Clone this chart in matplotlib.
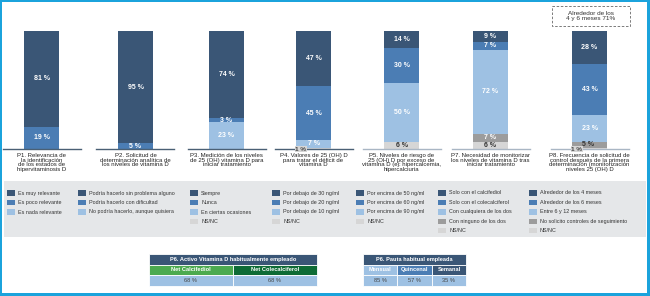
import matplotlib
matplotlib.use("Agg")
import matplotlib.pyplot as plt
from matplotlib.patches import Rectangle

plt.rcParams['font.family'] = ['Liberation Sans', 'DejaVu Sans']

# ---------------- data ----------------
questions = ["P1", "P2", "P3", "P4", "P5", "P7", "P8"]
titles = [
    "P1. Relevancia de\nla identificación\nde los estados de\nhipervitaminosis D",
    "P2. Solicitud de\ndeterminación analítica de\nlos niveles de vitamina D",
    "P3. Medición de los niveles\nde 25 (OH) vitamina D para\niniciar tratamiento",
    "P4. Valores de 25 (OH) D\npara tratar el déficit de\nvitamina D",
    "P5. Niveles de riesgo de\n25 (OH) D por exceso de\nvitamina D (ej: hipercalcemia,\nhipercalciuria",
    "P7. Necesidad de monitorizar\nlos niveles de vitamina D tras\niniciar tratamiento",
    "P8. Frecuencia de solicitud de\ncontrol después de la primera\ndeterminación (monitorización\nniveles 25 (OH) D",
]
seg_dark = [81, 95, 74, 47, 14, 9, 28]
seg_mid = [19, 5, 3, 45, 30, 7, 43]
seg_light = [0, 0, 23, 7, 50, 72, 23]
seg_gray = [0, 0, 0, 0, 0, 7, 5]
seg_nsnc = [0, 0, 0, 1, 6, 6, 1]

legend_entries = [
    ["Es muy relevante", "Es poco relevante", "Es nada relevante"],
    ["Podría hacerlo sin problema alguno", "Podría hacerlo con dificultad",
     "No podría hacerlo, aunque quisiera"],
    ["Siempre", "Nunca", "En ciertas ocasiones", "NS/NC"],
    ["Por debajo de 30 ng/ml", "Por debajo de 20 ng/ml", "Por debajo de 10 ng/ml", "NS/NC"],
    ["Por encima de 50 ng/ml", "Por encima de 60 ng/ml", "Por encima de 90 ng/ml", "NS/NC"],
    ["Solo con el calcifediol", "Solo con el colecalciferol", "Con cualquiera de los dos",
     "Con ninguno de los dos", "NS/NC"],
    ["Alrededor de los 4 meses", "Alrededor de los 6 meses", "Entre 6 y 12 meses",
     "No solicito controles de seguimiento", "NS/NC"],
]
legend_kinds = [
    ["dark", "mid", "light"],
    ["dark", "mid", "light"],
    ["dark", "mid", "light", "nsnc"],
    ["dark", "mid", "light", "nsnc"],
    ["dark", "mid", "light", "nsnc"],
    ["dark", "mid", "light", "gray", "nsnc"],
    ["dark", "mid", "light", "gray", "nsnc"],
]

annotation_text = "Alrededor de los\n4 y 6 meses 71%"

t1_title = "P6. Activo Vitamina D habitualmente empleado"
t1_cols = ["Net Calcifediol", "Net Colecalciferol"]
t1_vals = ["68 %", "68 %"]

t2_title = "P6. Pauta habitual empleada"
t2_cols = ["Mensual", "Quincenal", "Semanal"]
t2_vals = ["85 %", "57 %", "35 %"]

# ---------------- style ----------------
C = {"dark": "#3a5676", "mid": "#4b7db4", "light": "#9ec1e3",
     "gray": "#9c9c9c", "nsnc": "#d6d6d6"}
W, H = 650, 296
fig = plt.figure(figsize=(W / 100, H / 100), dpi=100)
fig.patch.set_facecolor("#1ba3dc")

canvas = fig.add_axes([0, 0, 1, 1])
canvas.set_xlim(0, W)
canvas.set_ylim(H, 0)
canvas.axis("off")
canvas.add_patch(Rectangle((2, 2), W - 5, H - 5, facecolor="white", edgecolor="none"))
# legend background
canvas.add_patch(Rectangle((4, 181), 642, 56, facecolor="#e5e7e9", edgecolor="none"))

centers = [41.5, 135.5, 226.5, 313.5, 401.5, 490.5, 589.5]
line_cols = ["#4a6075", "#4a6075", "#4a6075", "#4a6075", "#a9b6c4", "#a9b6c4", "#a9b6c4"]
pw = 78
top_px, base_px = 31, 149

for i, q in enumerate(questions):
    c = centers[i]
    ax = fig.add_axes([(c - pw / 2) / W, (H - base_px) / H, pw / W, (base_px - top_px) / H])
    ax.set_facecolor("none")
    segs = [("nsnc", seg_nsnc[i]), ("gray", seg_gray[i]), ("light", seg_light[i]),
            ("mid", seg_mid[i]), ("dark", seg_dark[i])]
    total = sum(v for _, v in segs)
    ax.set_xlim(-0.5, 0.5)
    ax.set_ylim(0, max(100, total))
    bw = 35 / pw
    bottom = 0
    for kind, v in segs:
        if v > 0:
            ax.bar(0, v, bottom=bottom, width=bw, color=C[kind], linewidth=0)
            mid_y = bottom + v / 2
            txtcol = "#333333" if kind == "nsnc" else "white"
            if kind == "nsnc" and v <= 2:
                ax.text(-bw / 2 + 0.06, -0.3, f"{v} %", ha="center", va="center",
                        fontsize=4.6, fontweight="bold", color="#444444",
                        bbox=dict(boxstyle="square,pad=0.1", fc="#d6d6d6", ec="none"),
                        clip_on=False, zorder=5)
            elif kind == "gray" and q == "P8":
                ax.text(-0.02, mid_y + 0.5, f"{v} %", ha="center", va="center",
                        fontsize=5, fontweight="bold", color="#333333")
            else:
                ax.text(0, mid_y, f"{v} %", ha="center", va="center",
                        fontsize=5, fontweight="bold", color=txtcol)
        bottom += v
    for s in ["top", "left", "right"]:
        ax.spines[s].set_visible(False)
    ax.spines["bottom"].set_color(line_cols[i])
    ax.spines["bottom"].set_linewidth(1.0)
    ax.set_xticks([])
    ax.set_yticks([])
    canvas.text(c, 153, titles[i], ha="center", va="top", fontsize=4.35,
                linespacing=0.92, color="#222222")

# annotation box above P8
canvas.add_patch(Rectangle((552, 6), 78, 20, facecolor="white", edgecolor="#666666",
                           linestyle=(0, (3, 2)), linewidth=0.6))
canvas.text(591, 16, annotation_text, ha="center", va="center", fontsize=4.6,
            linespacing=1.0, color="#333333")

# legend
sw_x = [7, 78, 190, 272, 356, 438, 529]
row_y = [193, 202.5, 212, 221.2, 230.3]
for j, entries in enumerate(legend_entries):
    for k, lab in enumerate(entries):
        y = row_y[k]
        canvas.add_patch(Rectangle((sw_x[j], y - 2.7), 8, 5.4,
                                   facecolor=C[legend_kinds[j][k]], edgecolor="none"))
        canvas.text(sw_x[j] + 11, y, lab, ha="left", va="center", fontsize=3.9,
                    color="#333333")

# tables
def cell(x0, x1, y0, y1, fc, text, tc, bold, fs=3.9):
    canvas.add_patch(Rectangle((x0, y0), x1 - x0, y1 - y0, facecolor=fc,
                               edgecolor="white", linewidth=0.6))
    canvas.text((x0 + x1) / 2, (y0 + y1) / 2, text, ha="center", va="center",
                fontsize=fs, color=tc, fontweight="bold" if bold else "normal")

cell(149, 317, 254, 264.5, C["dark"], t1_title, "white", True, 4.1)
t1_x = [149, 233, 317]
t1_fc = ["#4caa4f", "#0e6b35"]
for k in range(2):
    cell(t1_x[k], t1_x[k + 1], 264.5, 275, t1_fc[k], t1_cols[k], "white", True, 4.1)
    cell(t1_x[k], t1_x[k + 1], 275, 286, C["light"], t1_vals[k], "#444444", False, 4.1)

cell(363, 466, 254, 264.5, C["dark"], t2_title, "white", True, 4.1)
t2_x = [363, 397, 432, 466]
t2_fc = [C["light"], C["mid"], C["dark"]]
for k in range(3):
    cell(t2_x[k], t2_x[k + 1], 264.5, 275, t2_fc[k], t2_cols[k], "white", True, 4.1)
    cell(t2_x[k], t2_x[k + 1], 275, 286, C["light"], t2_vals[k], "#444444", False, 4.1)

fig.savefig("out.png", dpi=100, facecolor=fig.get_facecolor())
